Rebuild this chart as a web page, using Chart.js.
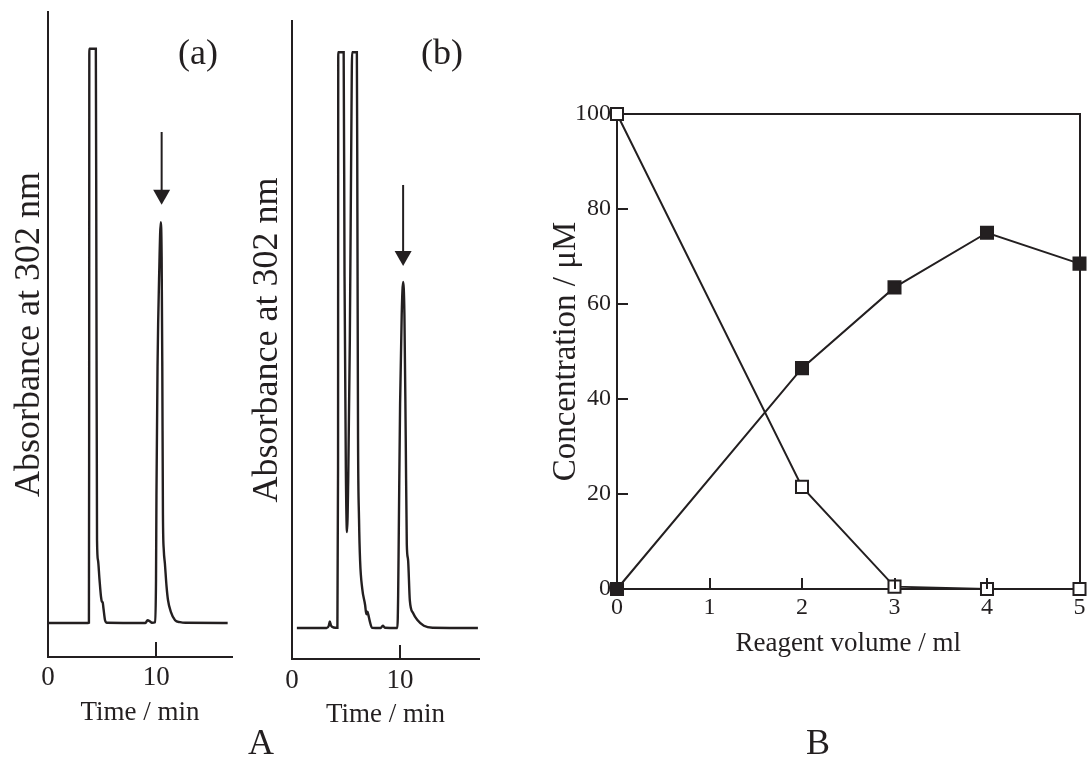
<!DOCTYPE html>
<html>
<head>
<meta charset="utf-8">
<script src="https://cdn.jsdelivr.net/npm/chart.js@4.4.1/dist/chart.umd.min.js"></script>
<style>
html,body{margin:0;padding:0;background:#ffffff;}
#wrap{position:relative;width:1090px;height:765px;overflow:hidden;background:#fff;}
#wrap canvas{position:absolute;left:0;top:0;}
</style>
</head>
<body>
<div id="wrap">
<canvas id="chartA" width="1090" height="765"></canvas>
<canvas id="chartBb" width="1090" height="765"></canvas>
<canvas id="chartB" width="1090" height="765"></canvas>
</div>
<script>
// ---------- data ----------
// chromatogram (a): retention time (min) vs detector signal (relative units, 0-100 of the axis)
const timeA = [0, 3.70, 3.78, 3.80, 3.82, 4.42, 4.47, 4.53, 4.62, 4.75, 4.90, 4.98, 5.05, 5.12, 5.27, 5.45,
  9.00, 9.20, 9.40, 9.60, 9.90, 9.98, 10.02, 10.12, 10.28, 10.42, 10.50, 10.56, 10.62, 10.70, 10.80, 10.95,
  11.09, 11.35, 11.74, 12.20, 12.70, 16.60];
const signalA = [5.27, 5.27, 5.30, 30.0, 94.3, 94.3, 60.0, 18.1, 15.0, 12.2, 9.3, 8.6, 8.5, 7.6, 5.7, 5.3,
  5.27, 5.70, 5.55, 5.30, 5.40, 12.0, 25.0, 45.0, 60.0, 67.4, 62.0, 45.0, 22.0, 16.5, 14.5, 11.0,
  8.8, 7.0, 5.7, 5.4, 5.3, 5.27];
// chromatogram (b)
const timeB = [0.45, 3.20, 3.40, 3.50, 3.60, 3.75, 4.00, 4.20, 4.26, 4.28, 4.78, 4.86, 4.98, 5.09, 5.20, 5.35,
  5.50, 5.56, 6.00, 6.05, 6.11, 6.20, 6.30, 6.50, 6.76, 6.88, 6.98, 7.08, 7.20, 7.40, 8.20, 8.40, 8.60,
  9.75, 9.82, 9.88, 10.00, 10.15, 10.28, 10.40, 10.52, 10.62, 10.74, 10.90, 11.20, 11.60, 12.20, 13.00, 17.20];
const signalB = [4.86, 4.86, 5.2, 5.9, 5.3, 5.0, 4.9, 4.9, 30.0, 95.1, 95.1, 60.0, 30.0, 19.9, 28.0, 50.0,
  85.0, 95.1, 95.1, 70.0, 34.5, 22.0, 15.4, 11.0, 8.5, 7.0, 7.4, 6.8, 5.9, 4.9, 4.86, 5.2, 4.9,
  4.86, 10.0, 20.0, 40.0, 54.0, 59.1, 54.0, 35.0, 18.0, 15.5, 9.2, 7.2, 6.1, 5.2, 4.9, 4.86];
const timeTicks = [0, 10];

// panel B: concentration vs reagent volume
const reagentVolume = [0, 2, 3, 4, 5];
const filledConc = [0, 46.5, 63.5, 75.0, 68.5];
const openConc = [100, 21.5, 0.5, 0, 0];
const volumeTicks = [0, 1, 2, 3, 4, 5];
const concTicks = [0, 20, 40, 60, 80, 100];

// ---------- styling ----------
const INK = '#231f20';
const FONT = "'Liberation Serif', 'Times New Roman', serif";
Chart.defaults.font.family = FONT;
Chart.defaults.color = INK;
Chart.defaults.animation = false;

const fixW = w => s => { s.width = w; s.paddingTop = 0; s.paddingBottom = 0; };
const fixH = h => s => { s.height = h; s.paddingLeft = 0; s.paddingRight = 0; };
const setTicks = arr => s => { s.ticks = arr.map(v => ({value: v})); };

const inwardTicks = {
  id: 'inwardTicks',
  afterDraw(chart, args, opts) {
    const ctx = chart.ctx;
    (opts.items || []).forEach(it => {
      const sc = chart.scales[it.axis];
      ctx.save();
      ctx.strokeStyle = INK;
      ctx.lineWidth = 2;
      it.values.forEach(v => {
        const p = Math.round(sc.getPixelForValue(v));
        ctx.beginPath();
        if (sc.isHorizontal()) {
          ctx.moveTo(p, chart.chartArea.bottom);
          ctx.lineTo(p, chart.chartArea.bottom - it.length);
        } else {
          ctx.moveTo(chart.chartArea.left, p);
          ctx.lineTo(chart.chartArea.left + it.length, p);
        }
        ctx.stroke();
      });
      ctx.restore();
    });
  }
};

const annot = {
  id: 'annot',
  afterDraw(chart, args, o) {
    const ctx = chart.ctx;
    (o.arrows || []).forEach(a => {
      const x = chart.scales.x.getPixelForValue(a.x);
      const y0 = chart.scales.y.getPixelForValue(a.from);
      const y1 = chart.scales.y.getPixelForValue(a.to);
      ctx.save();
      ctx.strokeStyle = INK; ctx.fillStyle = INK; ctx.lineWidth = 2;
      ctx.beginPath(); ctx.moveTo(x, y0); ctx.lineTo(x, y1 - a.head + 1); ctx.stroke();
      ctx.beginPath();
      ctx.moveTo(x - a.headW / 2, y1 - a.head);
      ctx.lineTo(x + a.headW / 2, y1 - a.head);
      ctx.lineTo(x, y1);
      ctx.closePath(); ctx.fill();
      ctx.restore();
    });
    (o.texts || []).forEach(t => {
      ctx.save();
      ctx.font = t.size + 'px ' + FONT;
      ctx.fillStyle = INK;
      ctx.textAlign = 'center';
      ctx.textBaseline = 'middle';
      ctx.fillText(t.text, t.x, t.y);
      ctx.restore();
    });
  }
};

function chromConfig(times, signal, o) {
  return {
    type: 'line',
    data: {
      datasets: [{
        data: times.map((t, i) => ({x: t, y: signal[i]})),
        borderColor: INK, borderWidth: 2.4, pointRadius: 0,
        cubicInterpolationMode: 'monotone', fill: false
      }]
    },
    options: {
      responsive: false, animation: false, events: [],
      layout: {padding: o.padding},
      scales: {
        x: {
          type: 'linear', min: 0, max: o.xMax,
          afterFit: fixH(o.xH), afterBuildTicks: setTicks(timeTicks),
          ticks: {padding: o.tickPad, font: {size: 27}, color: INK},
          grid: {display: false, drawTicks: false},
          border: {display: true, color: INK, width: 2},
          title: {display: true, text: 'Time / min', color: INK, font: {size: 27},
                  padding: {top: 0, bottom: o.xTitlePad}}
        },
        y: {
          type: 'linear', min: 0, max: 100,
          afterFit: fixW(o.yW),
          ticks: {display: false},
          grid: {display: false, drawTicks: false},
          border: {display: true, color: INK, width: 2},
          title: {display: true, text: 'Absorbance at 302 nm', color: INK, font: {size: 36},
                  padding: {top: o.yTitlePad, bottom: 0}}
        }
      },
      plugins: {
        legend: {display: false}, tooltip: {enabled: false},
        inwardTicks: {items: [{axis: 'x', values: [10], length: o.tickLen}]},
        annot: {arrows: [o.arrow], texts: o.texts}
      }
    },
    plugins: [inwardTicks, annot]
  };
}

new Chart(document.getElementById('chartA'), chromConfig(timeA, signalA, {
  padding: {left: 0, top: 12, right: 858, bottom: 0},
  xMax: 17, xH: 108, yW: 48, tickPad: 5, xTitlePad: 36, yTitlePad: 8, tickLen: 15,
  arrow: {x: 10.5, from: 81.4, to: 70.1, head: 15, headW: 17},
  texts: [{text: '(a)', x: 198, y: 55, size: 36}, {text: 'A', x: 261, y: 745, size: 36}]
}));

new Chart(document.getElementById('chartBb'), chromConfig(timeB, signalB, {
  padding: {left: 240, top: 21, right: 611, bottom: 0},
  xMax: 17.3, xH: 106, yW: 52, tickPad: 6, xTitlePad: 34, yTitlePad: 6, tickLen: 14,
  arrow: {x: 10.28, from: 74.3, to: 61.6, head: 15, headW: 17},
  texts: [{text: '(b)', x: 442, y: 55, size: 36}]
}));

const frameAxis = (pos, max) => ({
  type: 'linear', position: pos, min: 0, max: max,
  afterFit: pos === 'top' ? fixH(0) : fixW(0),
  ticks: {display: false},
  grid: {display: false, drawTicks: false},
  border: {display: true, color: INK, width: 2}
});

new Chart(document.getElementById('chartB'), {
  type: 'line',
  data: {
    datasets: [
      {
        label: 'filled',
        data: reagentVolume.map((v, i) => ({x: v, y: filledConc[i]})),
        borderColor: INK, borderWidth: 2, backgroundColor: INK,
        pointStyle: 'rect', pointRadius: 8.5, pointBorderWidth: 2,
        pointBackgroundColor: INK, pointBorderColor: INK,
        tension: 0, clip: false, fill: false
      },
      {
        label: 'open',
        data: reagentVolume.map((v, i) => ({x: v, y: openConc[i]})),
        borderColor: INK, borderWidth: 2, backgroundColor: '#ffffff',
        pointStyle: 'rect', pointRadius: 8.5, pointBorderWidth: 2,
        pointBackgroundColor: '#ffffff', pointBorderColor: INK,
        tension: 0, clip: false, fill: false
      }
    ]
  },
  options: {
    responsive: false, animation: false, events: [],
    layout: {padding: {left: 540, top: 114, right: 7, bottom: 0}},
    scales: {
      x: {
        type: 'linear', min: 0, max: 5,
        afterFit: fixH(176), afterBuildTicks: setTicks(volumeTicks),
        ticks: {padding: 4, font: {size: 24}, color: INK},
        grid: {display: false, drawTicks: false},
        border: {display: true, color: INK, width: 2},
        title: {display: true, text: 'Reagent volume / ml', color: INK, font: {size: 27},
                padding: {top: 0, bottom: 105}}
      },
      y: {
        type: 'linear', min: 0, max: 100,
        afterFit: fixW(77), afterBuildTicks: setTicks(concTicks),
        ticks: {padding: 6, font: {size: 24}, color: INK},
        grid: {display: false, drawTicks: false},
        border: {display: true, color: INK, width: 2},
        title: {display: true, text: 'Concentration / μM', color: INK, font: {size: 33},
                padding: {top: 7, bottom: 0}}
      },
      xTop: frameAxis('top', 5),
      yRight: frameAxis('right', 100)
    },
    plugins: {
      legend: {display: false}, tooltip: {enabled: false},
      inwardTicks: {items: [
        {axis: 'x', values: [1, 2, 3, 4], length: 11},
        {axis: 'y', values: [20, 40, 60, 80], length: 11}
      ]},
      annot: {texts: [{text: 'B', x: 818, y: 745, size: 36}]}
    }
  },
  plugins: [inwardTicks, annot]
});
</script>
</body>
</html>
